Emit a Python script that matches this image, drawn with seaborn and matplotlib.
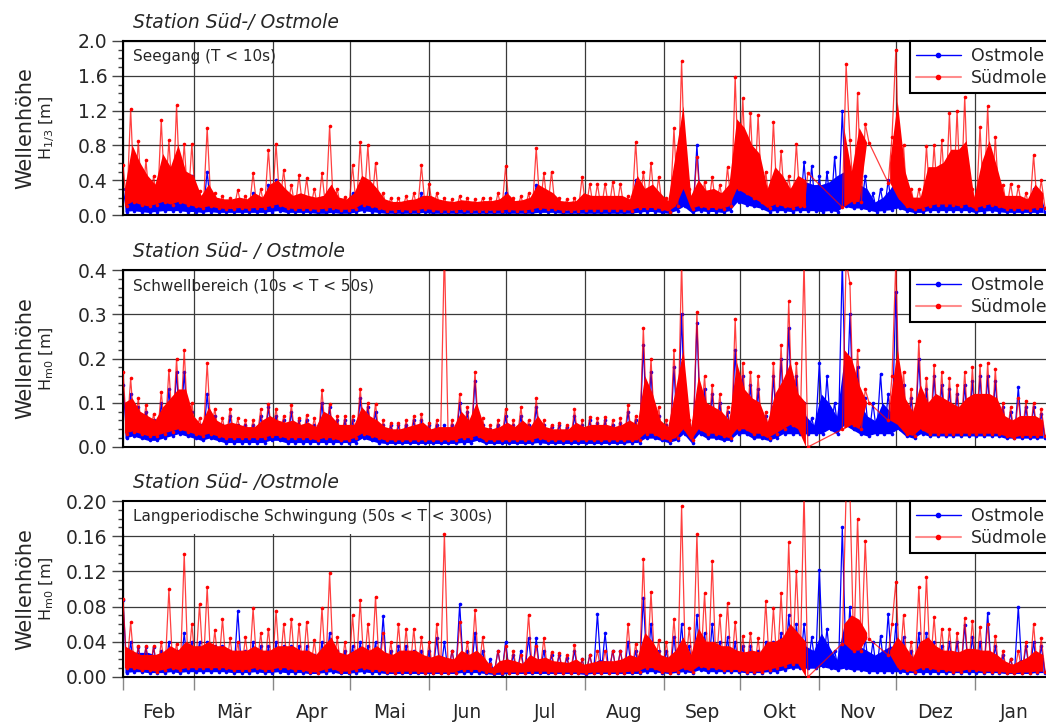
import numpy as np
import pandas as pd
import matplotlib
matplotlib.use("Agg")
import matplotlib.pyplot as plt
from matplotlib.patches import Rectangle
from matplotlib.lines import Line2D
from matplotlib.ticker import MultipleLocator, FormatStrFormatter
import seaborn as sns

nan = np.nan

# Messzeitraum: 1. Februar bis 1. Februar, ein Wert alle 36 Stunden
START = pd.Timestamp("2015-02-01")
END = pd.Timestamp("2016-02-01")
STEP_H = 36
BLOCK_D = 3  # Länge eines Blocks für das Band der dichten Messwerte

monate = ["Feb", "Mär", "Apr", "Mai", "Jun", "Jul", "Aug", "Sep", "Okt", "Nov", "Dez", "Jan"]
stationen = ["Ostmole", "Südmole"]

# --- Seegang (T < 10s), H1/3 [m] ---
ost_seegang = [
    0.30, 0.04, 0.45, 0.05, 0.40, 0.04, 0.30, 0.03, 0.25, 0.04, 0.45, 0.05, 0.50, 0.05, 0.55, 0.05, 0.40, 0.04, 0.45, 0.04,
    0.15, 0.03, 0.50, 0.04, 0.12, 0.03, 0.12, 0.03, 0.10, 0.03, 0.14, 0.03, 0.12, 0.03, 0.25, 0.03, 0.15, 0.03, 0.35, 0.04,
    0.40, 0.05, 0.20, 0.03, 0.15, 0.03, 0.20, 0.03, 0.18, 0.03, 0.12, 0.02, 0.20, 0.02, 0.30, 0.03, 0.12, 0.02, 0.10, 0.02,
    0.25, 0.03, 0.33, 0.05, 0.35, 0.04, 0.25, 0.03, 0.10, 0.02, 0.08, 0.02, 0.10, 0.02, 0.10, 0.02, 0.12, 0.02, 0.25, 0.03,
    0.15, 0.02, 0.10, 0.02, 0.08, 0.02, 0.08, 0.02, 0.10, 0.02, 0.08, 0.02, 0.08, 0.02, 0.08, 0.02, 0.08, 0.02, 0.10, 0.02,
    0.25, 0.02, 0.08, 0.02, 0.10, 0.02, 0.10, 0.02, 0.35, 0.03, 0.20, 0.03, 0.20, 0.03, 0.08, 0.02, 0.08, 0.02, 0.08, 0.02,
    0.15, 0.02, 0.12, 0.02, 0.12, 0.02, 0.12, 0.02, 0.12, 0.02, 0.12, 0.02, 0.08, 0.02, 0.40, 0.03, 0.25, 0.04, 0.30, 0.04,
    0.15, 0.03, 0.08, 0.02, 0.45, 0.05, 0.67, 0.10, 0.12, 0.03, 0.80, 0.05, 0.20, 0.04, 0.20, 0.04, 0.15, 0.03, 0.25, 0.05,
    0.62, 0.15, 0.60, 0.12, 0.45, 0.10, 0.40, 0.08, 0.20, 0.04, 0.40, 0.05, 0.30, 0.05, 0.20, 0.04, 0.35, 0.05, 0.61, 0.05,
    0.56, 0.05, 0.45, 0.04, 0.50, 0.05, 0.67, 0.04, 1.20, 0.10, 0.40, 0.08, 0.55, 0.08, 0.45, 0.06, 0.25, 0.04, 0.30, 0.05,
    0.40, 0.06, 0.70, 0.08, 0.35, 0.05, 0.15, 0.03, 0.15, 0.03, 0.35, 0.05, 0.40, 0.05, 0.40, 0.05, 0.50, 0.05, 0.45, 0.05,
    0.55, 0.05, 0.15, 0.03, 0.40, 0.04, 0.45, 0.05, 0.35, 0.04, 0.15, 0.03, 0.15, 0.03, 0.15, 0.03, 0.12, 0.03, 0.30, 0.03,
    0.20, 0.03,
]
sued_seegang = [
    0.57, 0.10, 1.22, 0.15, 0.85, 0.12, 0.63, 0.10, 0.45, 0.12, 1.09, 0.15, 0.86, 0.12, 1.26, 0.15, 0.82, 0.12, 0.82, 0.10,
    0.28, 0.08, 1.00, 0.10, 0.25, 0.08, 0.22, 0.07, 0.20, 0.07, 0.29, 0.08, 0.22, 0.07, 0.48, 0.08, 0.30, 0.08, 0.75, 0.10,
    0.82, 0.12, 0.52, 0.08, 0.35, 0.07, 0.46, 0.07, 0.42, 0.07, 0.30, 0.06, 0.48, 0.07, 1.02, 0.08, 0.30, 0.06, 0.21, 0.06,
    0.57, 0.07, 0.84, 0.12, 0.80, 0.10, 0.60, 0.08, 0.25, 0.05, 0.20, 0.05, 0.20, 0.06, 0.22, 0.05, 0.25, 0.05, 0.57, 0.07,
    0.36, 0.06, 0.25, 0.05, 0.20, 0.05, 0.18, 0.05, 0.22, 0.06, 0.20, 0.05, 0.18, 0.05, 0.20, 0.05, 0.20, 0.05, 0.25, 0.05,
    0.56, 0.06, 0.20, 0.05, 0.22, 0.05, 0.25, 0.06, 0.77, 0.08, 0.48, 0.07, 0.50, 0.07, 0.20, 0.05, 0.18, 0.05, 0.20, 0.05,
    0.44, 0.06, 0.36, 0.06, 0.36, 0.06, 0.36, 0.06, 0.38, 0.06, 0.36, 0.06, 0.22, 0.05, 0.84, 0.08, 0.50, 0.08, 0.60, 0.08,
    0.44, 0.07, 0.20, 0.04, 1.00, 0.10, 1.77, 0.30, 0.30, 0.07, 0.67, 0.10, 0.38, 0.08, 0.44, 0.08, 0.35, 0.07, 0.55, 0.10,
    1.59, 0.30, 1.34, 0.25, 1.17, 0.20, 1.15, 0.15, 0.50, 0.08, 1.07, 0.12, 0.73, 0.10, 0.45, 0.08, 0.82, 0.10, 0.10, 0.48,
    nan, nan, nan, nan, nan, nan, nan, nan, 0.09, 1.73, 0.86, 0.15, 1.40, 0.15, 1.05, 0.83, nan, nan, nan, nan,
    0.37, 0.90, 1.90, 0.20, 0.80, 0.10, 0.30, 0.07, 0.30, 0.07, 0.79, 0.10, 0.80, 0.12, 0.86, 0.12, 1.17, 0.12, 1.20, 0.10,
    1.36, 0.12, 0.30, 0.07, 1.01, 0.10, 1.25, 0.12, 0.90, 0.10, 0.35, 0.07, 0.36, 0.07, 0.33, 0.07, 0.25, 0.06, 0.69, 0.08,
    0.40, 0.08,
]
# Obergrenze der dichten Messwerte je 3-Tage-Block
ost_seegang_band = [
    0.20, 0.35, 0.30, 0.22, 0.18, 0.30, 0.35, 0.40, 0.30, 0.30,
    0.10, 0.20, 0.09, 0.09, 0.08, 0.10, 0.09, 0.15, 0.10, 0.20,
    0.25, 0.15, 0.10, 0.12, 0.12, 0.09, 0.12, 0.15, 0.09, 0.08,
    0.15, 0.25, 0.22, 0.15, 0.07, 0.06, 0.07, 0.07, 0.08, 0.12,
    0.10, 0.07, 0.06, 0.06, 0.07, 0.06, 0.06, 0.06, 0.06, 0.07,
    0.12, 0.06, 0.07, 0.08, 0.20, 0.15, 0.12, 0.06, 0.06, 0.06,
    0.10, 0.10, 0.10, 0.10, 0.10, 0.10, 0.07, 0.25, 0.15, 0.18,
    0.10, 0.06, 0.30, 0.50, 0.10, 0.30, 0.15, 0.15, 0.12, 0.18,
    0.50, 0.45, 0.35, 0.30, 0.15, 0.25, 0.20, 0.15, 0.20, 0.38,
    0.35, 0.35, 0.38, 0.45, 0.50, 0.30, 0.35, 0.30, 0.15, 0.20,
    0.30, 0.45, 0.20, 0.10, 0.10, 0.20, 0.25, 0.25, 0.30, 0.30,
    0.35, 0.10, 0.25, 0.30, 0.25, 0.10, 0.10, 0.10, 0.09, 0.15,
    0.12,
]
sued_seegang_band = [
    0.30, 0.80, 0.60, 0.45, 0.35, 0.70, 0.55, 0.80, 0.50, 0.45,
    0.22, 0.35, 0.20, 0.18, 0.18, 0.20, 0.18, 0.25, 0.20, 0.35,
    0.40, 0.30, 0.22, 0.25, 0.22, 0.20, 0.22, 0.35, 0.20, 0.18,
    0.25, 0.45, 0.40, 0.30, 0.18, 0.15, 0.15, 0.17, 0.18, 0.22,
    0.22, 0.18, 0.16, 0.15, 0.17, 0.16, 0.15, 0.16, 0.16, 0.18,
    0.25, 0.16, 0.17, 0.20, 0.35, 0.30, 0.25, 0.16, 0.15, 0.16,
    0.25, 0.22, 0.22, 0.22, 0.22, 0.22, 0.18, 0.45, 0.30, 0.35,
    0.25, 0.16, 0.70, 1.25, 0.22, 0.40, 0.28, 0.30, 0.25, 0.35,
    1.10, 1.00, 0.80, 0.70, 0.30, 0.55, 0.45, 0.30, 0.45, 0.40,
    nan, nan, nan, nan, 1.00, 0.50, 1.00, 0.80, nan, nan,
    0.60, 1.30, 0.50, 0.20, 0.20, 0.55, 0.55, 0.60, 0.75, 0.75,
    0.85, 0.20, 0.60, 0.85, 0.55, 0.22, 0.22, 0.22, 0.18, 0.35,
    0.25,
]

# --- Schwellbereich (10s < T < 50s), Hm0 [m] ---
ost_schwell = [
    0.14, 0.02, 0.12, 0.025, 0.09, 0.02, 0.08, 0.015, 0.06, 0.015, 0.10, 0.02, 0.13, 0.025, 0.17, 0.03, 0.17, 0.025, 0.08, 0.02,
    0.05, 0.015, 0.12, 0.02, 0.07, 0.015, 0.05, 0.01, 0.07, 0.01, 0.05, 0.01, 0.05, 0.01, 0.05, 0.01, 0.07, 0.01, 0.09, 0.015,
    0.07, 0.015, 0.06, 0.01, 0.08, 0.01, 0.06, 0.01, 0.06, 0.01, 0.05, 0.01, 0.10, 0.01, 0.09, 0.01, 0.06, 0.01, 0.06, 0.01,
    0.06, 0.01, 0.11, 0.02, 0.09, 0.015, 0.08, 0.01, 0.05, 0.008, 0.05, 0.008, 0.05, 0.008, 0.05, 0.008, 0.06, 0.008, 0.06, 0.008,
    0.05, 0.008, 0.05, 0.008, 0.05, 0.008, 0.05, 0.008, 0.10, 0.01, 0.08, 0.01, 0.15, 0.015, 0.05, 0.008, 0.04, 0.008, 0.05, 0.008,
    0.07, 0.008, 0.05, 0.008, 0.07, 0.008, 0.05, 0.008, 0.09, 0.01, 0.05, 0.008, 0.045, 0.008, 0.05, 0.008, 0.045, 0.008, 0.07, 0.008,
    0.05, 0.008, 0.06, 0.008, 0.055, 0.008, 0.06, 0.008, 0.05, 0.008, 0.055, 0.008, 0.08, 0.01, 0.06, 0.01, 0.23, 0.02, 0.17, 0.02,
    0.07, 0.015, 0.05, 0.01, 0.18, 0.015, 0.30, 0.03, 0.05, 0.01, 0.28, 0.03, 0.13, 0.02, 0.12, 0.02, 0.10, 0.015, 0.08, 0.015,
    0.22, 0.03, 0.16, 0.03, 0.14, 0.02, 0.13, 0.02, 0.07, 0.015, 0.16, 0.02, 0.20, 0.03, 0.27, 0.03, 0.16, 0.03, 0.10, 0.03,
    0.065, 0.03, 0.19, 0.03, 0.16, 0.04, 0.10, 0.03, 0.42, 0.05, 0.30, 0.04, 0.18, 0.03, 0.11, 0.025, 0.10, 0.03, 0.165, 0.03,
    0.12, 0.03, 0.35, 0.04, 0.14, 0.025, 0.11, 0.02, 0.20, 0.03, 0.13, 0.025, 0.16, 0.025, 0.14, 0.025, 0.13, 0.025, 0.12, 0.025,
    0.14, 0.025, 0.15, 0.025, 0.16, 0.025, 0.16, 0.025, 0.15, 0.025, 0.09, 0.02, 0.08, 0.02, 0.135, 0.02, 0.09, 0.02, 0.09, 0.02,
    0.075, 0.02,
]
sued_schwell = [
    0.17, 0.03, 0.155, 0.035, 0.11, 0.03, 0.095, 0.025, 0.075, 0.025, 0.125, 0.03, 0.175, 0.035, 0.20, 0.04, 0.22, 0.035, 0.10, 0.03,
    0.065, 0.025, 0.19, 0.03, 0.087, 0.025, 0.065, 0.02, 0.087, 0.02, 0.065, 0.02, 0.06, 0.02, 0.06, 0.02, 0.085, 0.02, 0.098, 0.025,
    0.087, 0.025, 0.07, 0.02, 0.095, 0.02, 0.065, 0.02, 0.072, 0.02, 0.065, 0.015, 0.128, 0.02, 0.098, 0.02, 0.07, 0.015, 0.07, 0.015,
    0.07, 0.02, 0.132, 0.03, 0.10, 0.025, 0.098, 0.02, 0.06, 0.015, 0.055, 0.015, 0.055, 0.015, 0.06, 0.015, 0.07, 0.015, 0.075, 0.015,
    0.055, 0.015, 0.06, 0.015, 0.45, 0.015, 0.06, 0.015, 0.12, 0.02, 0.09, 0.02, 0.17, 0.025, 0.065, 0.015, 0.05, 0.015, 0.06, 0.015,
    0.087, 0.015, 0.06, 0.015, 0.09, 0.015, 0.06, 0.015, 0.11, 0.02, 0.06, 0.015, 0.05, 0.015, 0.055, 0.015, 0.05, 0.015, 0.085, 0.015,
    0.06, 0.015, 0.068, 0.015, 0.065, 0.015, 0.068, 0.015, 0.06, 0.015, 0.065, 0.015, 0.094, 0.015, 0.07, 0.015, 0.27, 0.03, 0.20, 0.03,
    0.09, 0.02, 0.06, 0.015, 0.22, 0.02, 0.42, 0.04, 0.06, 0.015, 0.305, 0.04, 0.16, 0.03, 0.14, 0.03, 0.12, 0.025, 0.09, 0.02,
    0.29, 0.04, 0.19, 0.04, 0.17, 0.03, 0.16, 0.03, 0.08, 0.02, 0.19, 0.03, 0.23, 0.04, 0.33, 0.05, 0.19, 0.04, 0.42, 0.0,
    nan, nan, nan, nan, nan, nan, nan, nan, 0.04, 0.42, 0.37, 0.05, 0.22, 0.04, 0.13, 0.10, nan, nan, nan, nan,
    0.06, 0.16, 0.42, 0.05, 0.17, 0.03, 0.13, 0.025, 0.24, 0.04, 0.155, 0.03, 0.185, 0.03, 0.17, 0.03, 0.155, 0.03, 0.14, 0.03,
    0.17, 0.03, 0.18, 0.03, 0.185, 0.03, 0.19, 0.03, 0.177, 0.03, 0.10, 0.025, 0.09, 0.02, 0.11, 0.025, 0.105, 0.025, 0.10, 0.025,
    0.087, 0.025,
]
ost_schwell_band = [
    0.080, 0.080, 0.060, 0.050, 0.045, 0.060, 0.080, 0.100, 0.100, 0.055,
    0.040, 0.060, 0.045, 0.040, 0.045, 0.040, 0.035, 0.035, 0.045, 0.055,
    0.045, 0.045, 0.050, 0.040, 0.045, 0.035, 0.065, 0.060, 0.040, 0.040,
    0.040, 0.070, 0.060, 0.050, 0.035, 0.030, 0.030, 0.035, 0.040, 0.045,
    0.030, 0.035, 0.035, 0.035, 0.065, 0.050, 0.080, 0.035, 0.030, 0.035,
    0.045, 0.035, 0.050, 0.035, 0.060, 0.035, 0.030, 0.030, 0.030, 0.045,
    0.035, 0.040, 0.040, 0.040, 0.035, 0.040, 0.050, 0.040, 0.120, 0.100,
    0.050, 0.035, 0.100, 0.150, 0.035, 0.130, 0.080, 0.075, 0.065, 0.050,
    0.140, 0.100, 0.090, 0.080, 0.045, 0.100, 0.120, 0.150, 0.100, 0.070,
    0.050, 0.120, 0.100, 0.070, 0.200, 0.150, 0.100, 0.070, 0.060, 0.100,
    0.080, 0.150, 0.090, 0.065, 0.110, 0.080, 0.100, 0.090, 0.080, 0.075,
    0.090, 0.100, 0.100, 0.100, 0.090, 0.055, 0.050, 0.070, 0.055, 0.055,
    0.050,
]
sued_schwell_band = [
    0.100, 0.110, 0.080, 0.070, 0.060, 0.090, 0.110, 0.130, 0.130, 0.070,
    0.050, 0.090, 0.060, 0.050, 0.055, 0.050, 0.045, 0.045, 0.060, 0.070,
    0.060, 0.055, 0.060, 0.050, 0.055, 0.045, 0.080, 0.070, 0.050, 0.050,
    0.050, 0.090, 0.070, 0.060, 0.045, 0.040, 0.040, 0.045, 0.050, 0.055,
    0.040, 0.045, 0.045, 0.045, 0.080, 0.060, 0.100, 0.045, 0.040, 0.045,
    0.055, 0.045, 0.060, 0.045, 0.070, 0.045, 0.040, 0.040, 0.040, 0.055,
    0.045, 0.050, 0.050, 0.050, 0.045, 0.050, 0.060, 0.050, 0.160, 0.120,
    0.060, 0.045, 0.130, 0.220, 0.045, 0.160, 0.100, 0.090, 0.080, 0.060,
    0.190, 0.130, 0.110, 0.100, 0.055, 0.120, 0.150, 0.190, 0.120, 0.100,
    nan, nan, nan, nan, 0.220, 0.200, 0.140, 0.090, nan, nan,
    0.100, 0.220, 0.110, 0.080, 0.140, 0.100, 0.120, 0.110, 0.100, 0.090,
    0.110, 0.120, 0.120, 0.120, 0.110, 0.070, 0.060, 0.070, 0.070, 0.070,
    0.060,
]

# --- Langperiodische Schwingung (50s < T < 300s), Hm0 [m] ---
ost_langperiodisch = [
    0.087, 0.005, 0.04, 0.006, 0.034, 0.006, 0.034, 0.005, 0.034, 0.005, 0.03, 0.005, 0.04, 0.006, 0.03, 0.005, 0.05, 0.006, 0.04, 0.006,
    0.04, 0.006, 0.04, 0.006, 0.035, 0.006, 0.035, 0.006, 0.03, 0.005, 0.075, 0.005, 0.03, 0.005, 0.04, 0.006, 0.035, 0.005, 0.035, 0.005,
    0.04, 0.006, 0.035, 0.005, 0.035, 0.005, 0.035, 0.005, 0.035, 0.004, 0.025, 0.004, 0.04, 0.005, 0.05, 0.006, 0.03, 0.004, 0.03, 0.004,
    0.035, 0.005, 0.04, 0.006, 0.035, 0.005, 0.04, 0.005, 0.069, 0.004, 0.03, 0.004, 0.035, 0.004, 0.035, 0.004, 0.03, 0.004, 0.03, 0.004,
    0.03, 0.004, 0.044, 0.004, 0.04, 0.004, 0.03, 0.004, 0.083, 0.005, 0.03, 0.005, 0.05, 0.005, 0.03, 0.004, 0.02, 0.003, 0.03, 0.003,
    0.04, 0.004, 0.025, 0.004, 0.03, 0.004, 0.044, 0.004, 0.044, 0.004, 0.03, 0.004, 0.025, 0.004, 0.025, 0.004, 0.022, 0.004, 0.03, 0.004,
    0.02, 0.003, 0.025, 0.004, 0.072, 0.004, 0.05, 0.004, 0.03, 0.004, 0.03, 0.004, 0.04, 0.004, 0.03, 0.004, 0.09, 0.006, 0.06, 0.006,
    0.03, 0.005, 0.03, 0.004, 0.045, 0.005, 0.06, 0.006, 0.035, 0.005, 0.07, 0.008, 0.05, 0.006, 0.06, 0.006, 0.04, 0.006, 0.045, 0.006,
    0.04, 0.006, 0.035, 0.005, 0.035, 0.005, 0.03, 0.005, 0.04, 0.006, 0.04, 0.006, 0.05, 0.008, 0.07, 0.01, 0.06, 0.01, 0.06, 0.01,
    0.045, 0.01, 0.122, 0.012, 0.055, 0.01, 0.03, 0.008, 0.17, 0.01, 0.08, 0.008, 0.05, 0.008, 0.045, 0.006, 0.04, 0.006, 0.047, 0.006,
    0.072, 0.006, 0.06, 0.006, 0.045, 0.005, 0.03, 0.005, 0.05, 0.005, 0.05, 0.005, 0.04, 0.005, 0.035, 0.005, 0.04, 0.005, 0.04, 0.005,
    0.059, 0.005, 0.045, 0.005, 0.04, 0.005, 0.073, 0.005, 0.035, 0.005, 0.025, 0.004, 0.02, 0.004, 0.08, 0.004, 0.035, 0.004, 0.04, 0.005,
    0.035, 0.005,
]
sued_langperiodisch = [
    0.089, 0.01, 0.062, 0.01, 0.035, 0.008, 0.035, 0.008, 0.035, 0.006, 0.04, 0.008, 0.10, 0.01, 0.038, 0.008, 0.14, 0.01, 0.06, 0.01,
    0.083, 0.01, 0.102, 0.01, 0.053, 0.01, 0.066, 0.01, 0.044, 0.008, 0.04, 0.008, 0.045, 0.008, 0.078, 0.01, 0.05, 0.008, 0.055, 0.008,
    0.075, 0.01, 0.06, 0.01, 0.066, 0.008, 0.06, 0.008, 0.063, 0.006, 0.042, 0.005, 0.078, 0.008, 0.118, 0.01, 0.045, 0.006, 0.04, 0.006,
    0.07, 0.008, 0.088, 0.01, 0.06, 0.008, 0.091, 0.008, 0.05, 0.006, 0.04, 0.005, 0.06, 0.006, 0.055, 0.006, 0.055, 0.006, 0.045, 0.005,
    0.04, 0.005, 0.06, 0.005, 0.163, 0.005, 0.03, 0.005, 0.062, 0.008, 0.04, 0.008, 0.076, 0.008, 0.045, 0.006, 0.015, 0.004, 0.03, 0.005,
    0.035, 0.005, 0.03, 0.005, 0.025, 0.005, 0.071, 0.006, 0.035, 0.006, 0.044, 0.006, 0.028, 0.005, 0.027, 0.005, 0.025, 0.005, 0.036, 0.005,
    0.02, 0.004, 0.025, 0.005, 0.03, 0.005, 0.03, 0.005, 0.03, 0.005, 0.03, 0.005, 0.06, 0.006, 0.038, 0.006, 0.134, 0.01, 0.097, 0.01,
    0.042, 0.006, 0.04, 0.005, 0.066, 0.006, 0.194, 0.01, 0.056, 0.006, 0.162, 0.012, 0.095, 0.01, 0.132, 0.01, 0.07, 0.008, 0.084, 0.008,
    0.063, 0.008, 0.047, 0.006, 0.05, 0.006, 0.044, 0.006, 0.086, 0.008, 0.078, 0.01, 0.095, 0.012, 0.153, 0.015, 0.121, 0.015, 0.21, 0.0,
    nan, nan, nan, nan, nan, nan, nan, nan, 0.038, 0.21, 0.21, 0.03, 0.18, 0.03, 0.155, 0.043, nan, nan, nan, nan,
    0.025, 0.06, 0.108, 0.01, 0.07, 0.008, 0.04, 0.006, 0.102, 0.01, 0.114, 0.01, 0.068, 0.008, 0.055, 0.008, 0.055, 0.006, 0.05, 0.006,
    0.067, 0.008, 0.064, 0.008, 0.057, 0.006, 0.06, 0.006, 0.047, 0.006, 0.03, 0.005, 0.021, 0.004, 0.03, 0.005, 0.04, 0.005, 0.06, 0.006,
    0.044, 0.006,
]
ost_langperiodisch_band = [
    0.030, 0.028, 0.028, 0.028, 0.025, 0.022, 0.028, 0.022, 0.030, 0.028,
    0.028, 0.030, 0.028, 0.028, 0.024, 0.025, 0.024, 0.028, 0.024, 0.024,
    0.028, 0.026, 0.026, 0.024, 0.024, 0.020, 0.028, 0.032, 0.022, 0.020,
    0.024, 0.028, 0.024, 0.028, 0.025, 0.020, 0.024, 0.024, 0.022, 0.020,
    0.018, 0.022, 0.020, 0.018, 0.025, 0.020, 0.025, 0.018, 0.010, 0.015,
    0.020, 0.016, 0.014, 0.020, 0.020, 0.020, 0.016, 0.015, 0.014, 0.018,
    0.012, 0.015, 0.020, 0.018, 0.016, 0.018, 0.022, 0.020, 0.040, 0.032,
    0.020, 0.018, 0.025, 0.035, 0.020, 0.040, 0.030, 0.032, 0.028, 0.028,
    0.025, 0.022, 0.025, 0.022, 0.030, 0.030, 0.035, 0.045, 0.040, 0.035,
    0.030, 0.050, 0.035, 0.020, 0.060, 0.040, 0.035, 0.030, 0.025, 0.030,
    0.035, 0.035, 0.028, 0.018, 0.030, 0.035, 0.028, 0.024, 0.025, 0.024,
    0.028, 0.026, 0.025, 0.028, 0.020, 0.015, 0.012, 0.020, 0.018, 0.025,
    0.022,
]
sued_langperiodisch_band = [
    0.035, 0.030, 0.025, 0.025, 0.025, 0.028, 0.035, 0.030, 0.040, 0.035,
    0.035, 0.040, 0.035, 0.035, 0.030, 0.030, 0.030, 0.035, 0.030, 0.030,
    0.035, 0.035, 0.035, 0.030, 0.030, 0.025, 0.035, 0.045, 0.028, 0.025,
    0.030, 0.035, 0.030, 0.035, 0.028, 0.025, 0.030, 0.030, 0.030, 0.025,
    0.022, 0.025, 0.022, 0.020, 0.030, 0.025, 0.030, 0.022, 0.010, 0.018,
    0.020, 0.018, 0.015, 0.025, 0.020, 0.022, 0.018, 0.017, 0.016, 0.020,
    0.014, 0.016, 0.018, 0.018, 0.018, 0.020, 0.025, 0.022, 0.050, 0.040,
    0.025, 0.022, 0.030, 0.045, 0.025, 0.055, 0.040, 0.040, 0.035, 0.035,
    0.030, 0.028, 0.030, 0.028, 0.040, 0.040, 0.045, 0.060, 0.050, 0.040,
    nan, nan, nan, nan, 0.060, 0.070, 0.065, 0.050, nan, nan,
    0.030, 0.045, 0.035, 0.022, 0.040, 0.045, 0.035, 0.030, 0.030, 0.028,
    0.032, 0.032, 0.030, 0.030, 0.025, 0.018, 0.014, 0.018, 0.022, 0.030,
    0.025,
]

panels = [
    dict(ost=ost_seegang, sued=sued_seegang, ost_band=ost_seegang_band, sued_band=sued_seegang_band,
         ymax=2.0, major=0.4, minor=0.1, fmt="%.1f",
         titel="Station Süd-/ Ostmole", bereich="Seegang (T < 10s)", ylab=r"H$_{1/3}$ [m]", box=None),
    dict(ost=ost_schwell, sued=sued_schwell, ost_band=ost_schwell_band, sued_band=sued_schwell_band,
         ymax=0.4, major=0.1, minor=0.02, fmt="%.1f",
         titel="Station Süd- / Ostmole", bereich="Schwellbereich (10s < T < 50s)",
         ylab=r"H$_{\mathrm{m0}}$ [m]", box=None),
    dict(ost=ost_langperiodisch, sued=sued_langperiodisch,
         ost_band=ost_langperiodisch_band, sued_band=sued_langperiodisch_band,
         ymax=0.2, major=0.04, minor=0.01, fmt="%.2f",
         titel="Station Süd- /Ostmole", bereich="Langperiodische Schwingung (50s < T < 300s)",
         ylab=r"H$_{\mathrm{m0}}$ [m]", box=0.328),
]

sns.set_style("white")
plt.rcParams["font.family"] = ["DejaVu Sans"]

W, H = 1046, 724
fig = plt.figure(figsize=(W / 100, H / 100), dpi=100)

# Achsenrahmen in Pixeln; rechts läuft die Zeitachse bis zum 1. Februar weiter
left_px, right_px = 123, 1054
rows_px = [(41, 215), (270, 447), (501, 677)]

month_starts = pd.date_range(START, END, freq="MS")
month_mids = [a + (b - a) / 2 for a, b in zip(month_starts[:-1], month_starts[1:])]

BLUE = "#0000ff"
RED = "#ff0000"


def draw_station(ax, werte, band, color, line_color, z):
    werte = np.asarray(werte, dtype=float)
    n = len(werte)
    zeit = START + pd.to_timedelta(np.arange(n) * STEP_H, unit="h")
    # Band der dichten Messwerte: von der tieferen Messung eines Blocks bis zur Bandoberkante
    unten = np.fmin(werte[0::2], werte[1::2])
    oben = np.asarray(band, dtype=float)
    t_block = START + pd.to_timedelta((np.arange(len(oben)) * BLOCK_D + 0.75) * 24, unit="h")
    ax.fill_between(t_block, unten, np.fmax(oben, unten), color=color, lw=0, zorder=z)
    df = pd.DataFrame({"Zeit": zeit, "Wert": werte}).dropna()
    sns.lineplot(data=df, x="Zeit", y="Wert", ax=ax, estimator=None, sort=False,
                 color=line_color, lw=0.9, marker="o", ms=2.6, mfc=color, mec=color,
                 mew=0, zorder=z + 0.1)


for idx, (p, (top, bot)) in enumerate(zip(panels, rows_px)):
    ax = fig.add_axes([left_px / W, 1 - bot / H, (right_px - left_px) / W, (bot - top) / H])

    draw_station(ax, p["ost"], p["ost_band"], BLUE, BLUE, 2.0)
    draw_station(ax, p["sued"], p["sued_band"], RED, (1.0, 0.0, 0.0, 0.75), 3.0)

    ax.set_xlim(START, END)
    ax.set_ylim(0, p["ymax"])
    ax.set_xlabel("")
    ax.set_ylabel("")

    ax.set_axisbelow(True)
    ax.set_xticks(list(month_starts))
    ax.set_xticks(month_mids, minor=True)
    ax.yaxis.set_major_locator(MultipleLocator(p["major"]))
    ax.yaxis.set_minor_locator(MultipleLocator(p["minor"]))
    ax.yaxis.set_major_formatter(FormatStrFormatter(p["fmt"]))
    ax.grid(True, which="major", color="#3a3a3a", lw=0.9)

    ax.tick_params(axis="y", which="major", direction="out", length=8, width=1,
                   color="#444444", labelsize=13.5, pad=3, left=True)
    ax.tick_params(axis="y", which="minor", direction="out", length=3.5, width=1,
                   color="#444444", left=True)
    if idx == 2:
        ax.tick_params(axis="x", which="major", direction="out", length=9, width=1,
                       color="#888888", labelbottom=False, bottom=True)
        ax.set_xticklabels(monate, minor=True)
        ax.tick_params(axis="x", which="minor", length=0, labelsize=13.5, pad=19, bottom=True)
    else:
        ax.tick_params(axis="x", which="both", length=0, labelbottom=False)

    for sp in ax.spines.values():
        sp.set_visible(True)
        sp.set_color("black")
        sp.set_linewidth(1.5)

    if p["box"] is not None:
        ax.add_patch(Rectangle((0, 0.81), p["box"], 0.19, transform=ax.transAxes,
                               facecolor="white", edgecolor="none", zorder=1.5))

    ax.annotate(p["bereich"], xy=(0, 1), xycoords="axes fraction", xytext=(7, -11.5),
                textcoords="offset points", ha="left", va="center", fontsize=11, zorder=5)
    ax.annotate(p["titel"], xy=(0, 1), xycoords="axes fraction", xytext=(7, 13.5),
                textcoords="offset points", ha="left", va="center", fontsize=13.5,
                style="italic", annotation_clip=False)

    handles = [
        Line2D([], [], color=BLUE, lw=1, marker="o", ms=3, mfc=BLUE, mec=BLUE),
        Line2D([], [], color=(1.0, 0.0, 0.0, 0.45), lw=1.5, marker="o", ms=3, mfc=RED, mec=RED),
    ]
    leg = ax.legend(handles, stationen, loc="upper right", bbox_to_anchor=(1, 1),
                    borderaxespad=0, frameon=True, fancybox=False, edgecolor="black",
                    fontsize=12.5, handlelength=2.6, handletextpad=0.6, borderpad=0.35,
                    labelspacing=0.25, numpoints=1, framealpha=1)
    leg.get_frame().set_linewidth(1.5)
    leg.set_zorder(6)

    yc = 1 - (top + bot) / 2 / H
    fig.text(25 / W, yc, "Wellenhöhe", rotation=90, fontsize=15, ha="center", va="center")
    fig.text(47 / W, yc, p["ylab"], rotation=90, fontsize=11.5, ha="center", va="center")

fig.savefig("out.png", dpi=100)
